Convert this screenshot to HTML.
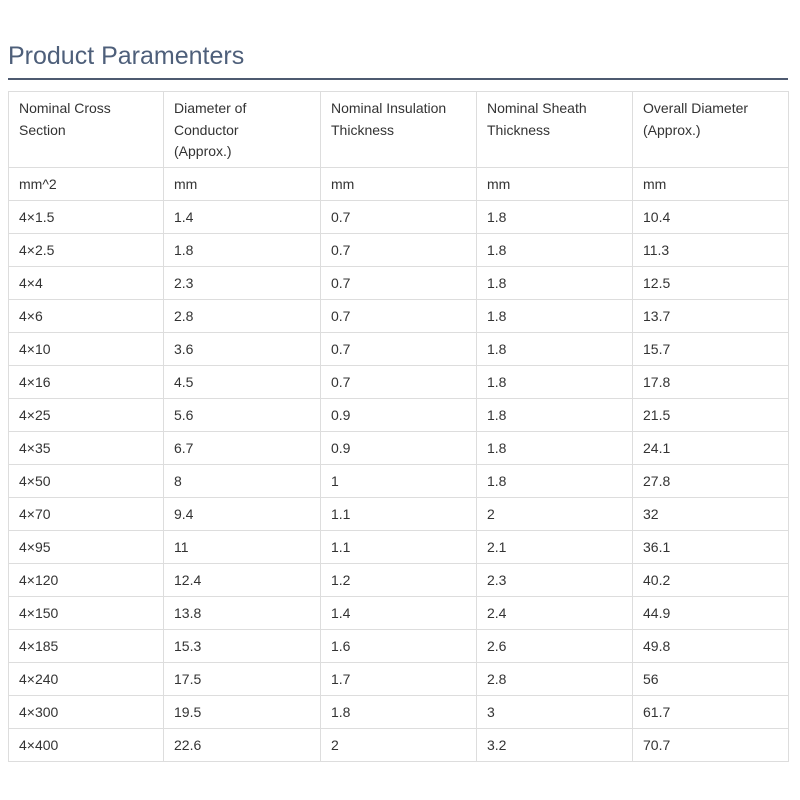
<!DOCTYPE html>
<html><head><meta charset="utf-8"><style>
body{margin:0;background:#fff;font-family:"Liberation Sans",sans-serif;}
h2{position:absolute;left:8px;top:39px;margin:0;font-weight:normal;font-size:25px;color:#4e5f7a;line-height:34px;}
.rule{position:absolute;left:8px;top:78px;width:780px;height:2px;background:#4e5a70;}
table{position:absolute;left:8px;top:91px;width:780px;border-collapse:collapse;table-layout:fixed;font-size:14px;color:#333;}
td{border:1px solid #ddd;padding:0 10px;height:32px;vertical-align:middle;}
tr.h td{height:76px;vertical-align:top;padding-top:6px;line-height:21.5px;box-sizing:border-box;}
</style></head><body>
<h2>Product Paramenters</h2>
<div class="rule"></div>
<table>
<colgroup><col style="width:155px"><col style="width:157px"><col style="width:156px"><col style="width:156px"><col style="width:156px"></colgroup>
<tr class="h"><td>Nominal Cross<br>Section</td><td>Diameter of<br>Conductor<br>(Approx.)</td><td>Nominal Insulation<br>Thickness</td><td>Nominal Sheath<br>Thickness</td><td>Overall Diameter<br>(Approx.)</td></tr>
<tr><td>mm^2</td><td>mm</td><td>mm</td><td>mm</td><td>mm</td></tr>
<tr><td>4×1.5</td><td>1.4</td><td>0.7</td><td>1.8</td><td>10.4</td></tr>
<tr><td>4×2.5</td><td>1.8</td><td>0.7</td><td>1.8</td><td>11.3</td></tr>
<tr><td>4×4</td><td>2.3</td><td>0.7</td><td>1.8</td><td>12.5</td></tr>
<tr><td>4×6</td><td>2.8</td><td>0.7</td><td>1.8</td><td>13.7</td></tr>
<tr><td>4×10</td><td>3.6</td><td>0.7</td><td>1.8</td><td>15.7</td></tr>
<tr><td>4×16</td><td>4.5</td><td>0.7</td><td>1.8</td><td>17.8</td></tr>
<tr><td>4×25</td><td>5.6</td><td>0.9</td><td>1.8</td><td>21.5</td></tr>
<tr><td>4×35</td><td>6.7</td><td>0.9</td><td>1.8</td><td>24.1</td></tr>
<tr><td>4×50</td><td>8</td><td>1</td><td>1.8</td><td>27.8</td></tr>
<tr><td>4×70</td><td>9.4</td><td>1.1</td><td>2</td><td>32</td></tr>
<tr><td>4×95</td><td>11</td><td>1.1</td><td>2.1</td><td>36.1</td></tr>
<tr><td>4×120</td><td>12.4</td><td>1.2</td><td>2.3</td><td>40.2</td></tr>
<tr><td>4×150</td><td>13.8</td><td>1.4</td><td>2.4</td><td>44.9</td></tr>
<tr><td>4×185</td><td>15.3</td><td>1.6</td><td>2.6</td><td>49.8</td></tr>
<tr><td>4×240</td><td>17.5</td><td>1.7</td><td>2.8</td><td>56</td></tr>
<tr><td>4×300</td><td>19.5</td><td>1.8</td><td>3</td><td>61.7</td></tr>
<tr><td>4×400</td><td>22.6</td><td>2</td><td>3.2</td><td>70.7</td></tr>
</table>
</body></html>
